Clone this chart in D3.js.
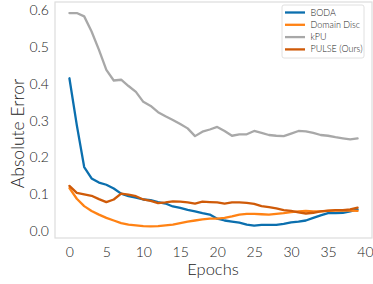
<!DOCTYPE html>
<html>
<head>
<meta charset="utf-8">
<script src="https://cdn.jsdelivr.net/npm/d3@7"></script>
<style>
  body { margin: 0; background: #fff; }
  text { font-family: Lato, "DejaVu Sans", sans-serif; font-weight: 300; fill: #222; }
</style>
</head>
<body>
<svg id="chart"></svg>
<script>
// chart data
var epochs = d3.range(0, 40)
var seriesNames = ["BODA", "Domain Disc", "kPU", "PULSE (Ours)"]
var bodaValues = [0.415, 0.288, 0.174, 0.143, 0.132, 0.126, 0.116, 0.102, 0.095, 0.091,
                  0.086, 0.084, 0.079, 0.075, 0.067, 0.063, 0.058, 0.054, 0.049, 0.045,
                  0.034, 0.029, 0.026, 0.023, 0.018, 0.015, 0.017, 0.017, 0.017, 0.020,
                  0.024, 0.026, 0.029, 0.036, 0.043, 0.049, 0.049, 0.050, 0.054, 0.059]
var discValues = [0.117, 0.088, 0.068, 0.055, 0.045, 0.036, 0.029, 0.022, 0.018, 0.016,
                  0.014, 0.013, 0.014, 0.016, 0.018, 0.022, 0.026, 0.029, 0.032, 0.034,
                  0.034, 0.036, 0.040, 0.045, 0.047, 0.047, 0.046, 0.045, 0.047, 0.049,
                  0.052, 0.054, 0.055, 0.054, 0.054, 0.055, 0.056, 0.056, 0.056, 0.055]
var kpuValues = [0.592, 0.592, 0.583, 0.542, 0.492, 0.438, 0.409, 0.411, 0.394, 0.378,
                 0.351, 0.340, 0.323, 0.312, 0.302, 0.291, 0.279, 0.258, 0.270, 0.276,
                 0.283, 0.272, 0.259, 0.263, 0.263, 0.272, 0.267, 0.261, 0.259, 0.258,
                 0.265, 0.272, 0.271, 0.267, 0.261, 0.259, 0.255, 0.252, 0.249, 0.252]
var pulseValues = [0.123, 0.104, 0.100, 0.096, 0.087, 0.079, 0.086, 0.102, 0.099, 0.095,
                   0.086, 0.082, 0.076, 0.078, 0.081, 0.080, 0.078, 0.075, 0.080, 0.079,
                   0.078, 0.075, 0.078, 0.078, 0.077, 0.074, 0.068, 0.065, 0.062, 0.057,
                   0.055, 0.051, 0.048, 0.050, 0.054, 0.056, 0.057, 0.057, 0.059, 0.064]
var xTicks = [0, 5, 10, 15, 20, 25, 30, 35, 40]
var yTicks = [0.0, 0.1, 0.2, 0.3, 0.4, 0.5, 0.6]

var allSeries = [bodaValues, discValues, kpuValues, pulseValues]

// drawing style
var colors = ["#0b6fae", "#ff8214", "#a8a8a8", "#cf5a08"]
var spineColor = "#dddddd"
var lineWidth = 2.3

var dimensions = {
    width: 373,
    height: 284,
    margin: { top: 2, right: 1, bottom: 46, left: 55 }
}

var svg = d3.select("#chart")
            .attr("width", dimensions.width)
            .attr("height", dimensions.height)

var x = d3.scaleLinear()
          .domain([-1.95, 40.95])
          .range([dimensions.margin.left, dimensions.width - dimensions.margin.right])
var y = d3.scaleLinear()
          .domain([-0.0185, 0.622])
          .range([dimensions.height - dimensions.margin.bottom, dimensions.margin.top])

// frame
svg.append("rect")
   .attr("x", x.range()[0])
   .attr("y", y.range()[1])
   .attr("width", x.range()[1] - x.range()[0])
   .attr("height", y.range()[0] - y.range()[1])
   .attr("fill", "none")
   .attr("stroke", spineColor)
   .attr("stroke-width", 1.2)

// axes, labels only
svg.append("g")
   .attr("transform", `translate(0,${y.range()[0]})`)
   .call(d3.axisBottom(x).tickValues(xTicks).tickSize(0).tickPadding(9).tickFormat(d3.format("d")))
svg.append("g")
   .attr("transform", `translate(${x.range()[0]},0)`)
   .call(d3.axisLeft(y).tickValues(yTicks).tickSize(0).tickPadding(6).tickFormat(d3.format(".1f")))
svg.selectAll(".domain").remove()
svg.selectAll(".tick text")
   .attr("font-size", 14)
   .attr("font-family", "Lato, sans-serif")
   .attr("fill", "#222")

svg.append("text")
   .attr("x", 213)
   .attr("y", 275)
   .attr("text-anchor", "middle")
   .attr("font-size", 16.5)
   .text("Epochs")

svg.append("text")
   .attr("transform", "translate(24,133.5) rotate(-90)")
   .attr("text-anchor", "middle")
   .attr("font-size", 17.5)
   .text("Absolute Error")

// lines
var line = d3.line()
             .x((d, i) => x(epochs[i]))
             .y(d => y(d))

svg.append("g")
   .selectAll("path")
   .data(allSeries)
   .enter()
   .append("path")
   .attr("d", d => line(d))
   .attr("fill", "none")
   .attr("stroke", (d, i) => colors[i])
   .attr("stroke-width", lineWidth)
   .attr("stroke-linejoin", "round")
   .attr("stroke-linecap", "round")

// legend
var legend = svg.append("g")
                .attr("transform", "translate(282,5)")
legend.append("rect")
      .attr("width", 82)
      .attr("height", 53)
      .attr("rx", 2)
      .attr("fill", "white")
      .attr("fill-opacity", 0.85)
      .attr("stroke", "#d8d8d8")
      .attr("stroke-width", 0.8)

var entries = legend.selectAll(".entry")
                    .data(seriesNames)
                    .enter()
                    .append("g")
                    .attr("class", "entry")
                    .attr("transform", (d, i) => `translate(0,${7.5 + i * 12.3})`)
entries.append("line")
       .attr("x1", 3)
       .attr("x2", 23)
       .attr("stroke", (d, i) => colors[i])
       .attr("stroke-width", lineWidth)
entries.append("text")
       .attr("x", 28.5)
       .attr("y", 3)
       .attr("font-size", 9)
       .text(d => d)
</script>
</body>
</html>
